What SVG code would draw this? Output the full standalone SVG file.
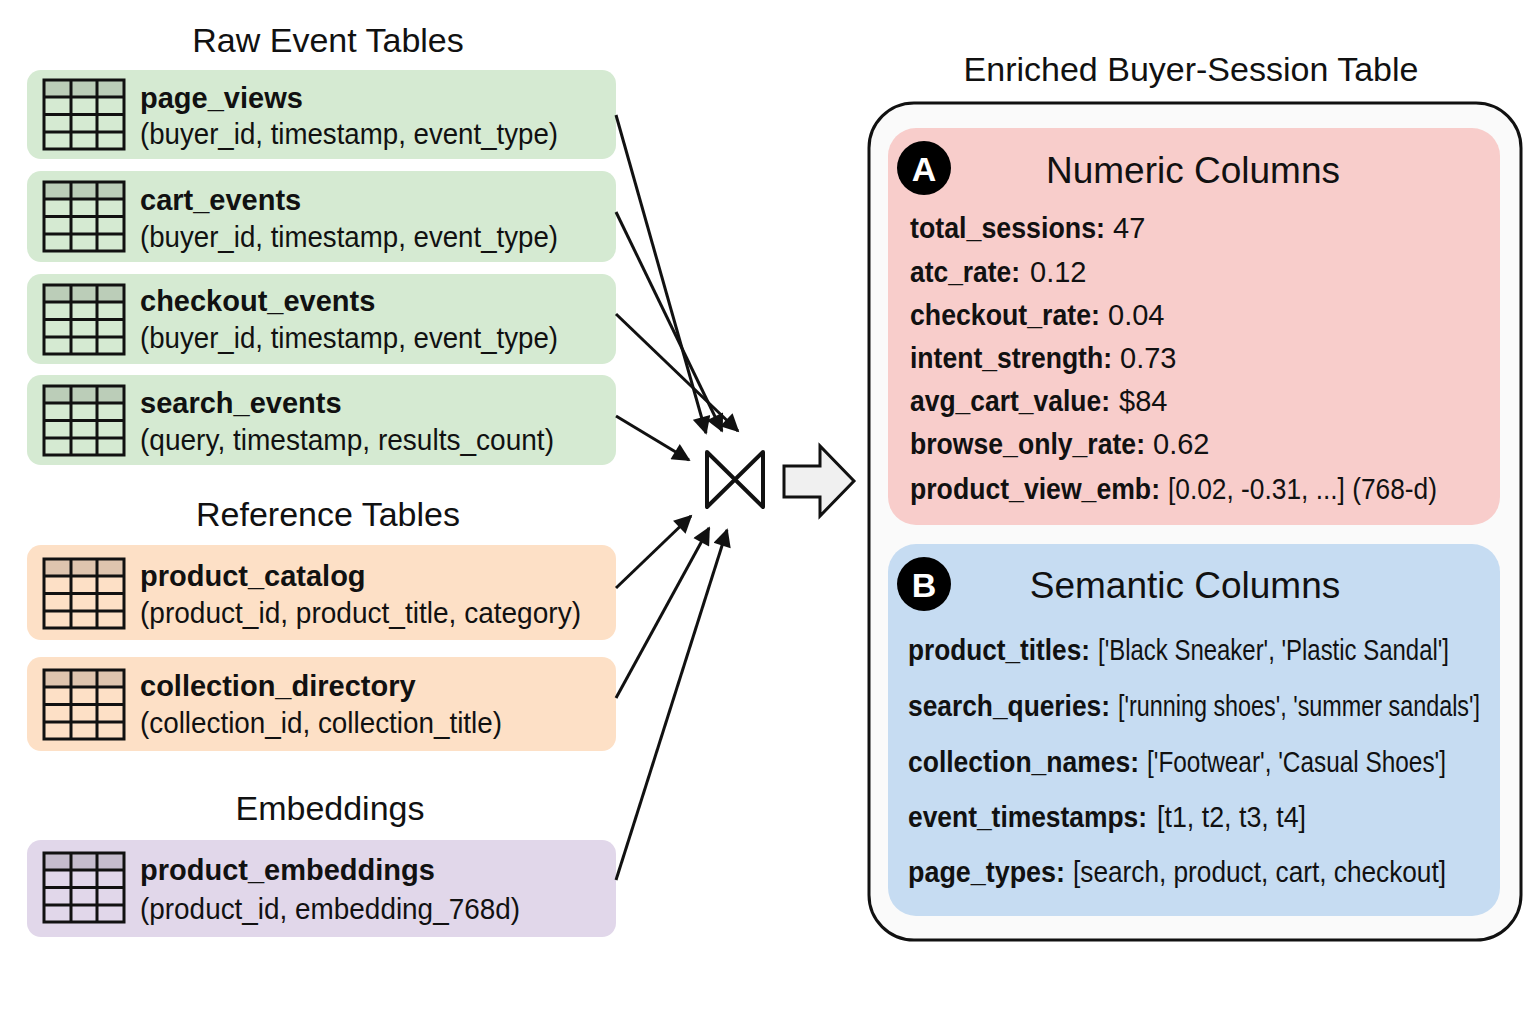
<svg xmlns="http://www.w3.org/2000/svg" width="1536" height="1024" viewBox="0 0 1536 1024">
<style>
text{font-family:"Liberation Sans","DejaVu Sans",sans-serif;fill:#111}
.h{font-size:34px;text-anchor:middle}
.n{font-size:29px;font-weight:bold}
.s{font-size:29px}
.g{fill:#d5ead2}.o{fill:#fde0c6}.p{fill:#e1d7ea}
.grid{fill:none;stroke:#111;stroke-width:3}
.c{stroke:#111;stroke-width:3;fill:none;marker-end:url(#ah)}
.r{font-size:29px}
.b{font-size:29px;font-weight:bold}
</style>
<defs>
<marker id="ah" viewBox="0 0 10 10" refX="9" refY="5" markerWidth="22" markerHeight="18" orient="auto" markerUnits="userSpaceOnUse"><path d="M0,0 L10,5 L0,10 z" fill="#111"/></marker>
<g id="icon">
<rect x="0" y="0" width="80" height="17" fill="#000" opacity="0.12"/>
<rect class="grid" x="0" y="0" width="80" height="69"/>
<path class="grid" d="M27,0V69M53,0V69M0,17H80M0,34.5H80M0,52H80"/>
</g>
</defs>
<rect width="1536" height="1024" fill="#fff"/>
<text class="h" x="328" y="52">Raw Event Tables</text>
<text class="h" x="328" y="526">Reference Tables</text>
<text class="h" x="330" y="820">Embeddings</text>
<g id="page_views"><rect class="g" x="27" y="70" width="589" height="89" rx="14"/><use href="#icon" x="44" y="80"/><text class="n" x="140" y="108">page_views</text><text class="s" x="140" y="144" textLength="418" lengthAdjust="spacingAndGlyphs">(buyer_id, timestamp, event_type)</text></g>
<g id="cart_events"><rect class="g" x="27" y="171" width="589" height="91" rx="14"/><use href="#icon" x="44" y="182"/><text class="n" x="140" y="210">cart_events</text><text class="s" x="140" y="247" textLength="418" lengthAdjust="spacingAndGlyphs">(buyer_id, timestamp, event_type)</text></g>
<g id="checkout_events"><rect class="g" x="27" y="274" width="589" height="90" rx="14"/><use href="#icon" x="44" y="285"/><text class="n" x="140" y="311">checkout_events</text><text class="s" x="140" y="348" textLength="418" lengthAdjust="spacingAndGlyphs">(buyer_id, timestamp, event_type)</text></g>
<g id="search_events"><rect class="g" x="27" y="375" width="589" height="90" rx="14"/><use href="#icon" x="44" y="386"/><text class="n" x="140" y="413">search_events</text><text class="s" x="140" y="450" textLength="414" lengthAdjust="spacingAndGlyphs">(query, timestamp, results_count)</text></g>
<g id="product_catalog"><rect class="o" x="27" y="545" width="589" height="95" rx="14"/><use href="#icon" x="44" y="559"/><text class="n" x="140" y="586">product_catalog</text><text class="s" x="140" y="623" textLength="441" lengthAdjust="spacingAndGlyphs">(product_id, product_title, category)</text></g>
<g id="collection_directory"><rect class="o" x="27" y="657" width="589" height="94" rx="14"/><use href="#icon" x="44" y="670"/><text class="n" x="140" y="696">collection_directory</text><text class="s" x="140" y="733" textLength="362" lengthAdjust="spacingAndGlyphs">(collection_id, collection_title)</text></g>
<g id="product_embeddings"><rect class="p" x="27" y="840" width="589" height="97" rx="14"/><use href="#icon" x="44" y="853"/><text class="n" x="140" y="880">product_embeddings</text><text class="s" x="140" y="919" textLength="380" lengthAdjust="spacingAndGlyphs">(product_id, embedding_768d)</text></g>
<g id="connectors">
<line class="c" x1="616" y1="115" x2="706" y2="433"/>
<line class="c" x1="616" y1="212" x2="722" y2="431"/>
<line class="c" x1="616" y1="314" x2="738" y2="431"/>
<line class="c" x1="616" y1="416" x2="689" y2="460"/>
<line class="c" x1="616" y1="588" x2="691" y2="516"/>
<line class="c" x1="616" y1="698" x2="709" y2="528"/>
<line class="c" x1="616" y1="880" x2="727" y2="530"/>
</g>
<g id="join"><path d="M707,452 L763,507 L763,452 L707,507 Z" fill="none" stroke="#111" stroke-width="4" stroke-linejoin="round"/></g>
<g id="big_arrow"><path d="M784,466 H820 V446 L854,481 L820,516 V497 H784 Z" fill="#f0f0f0" stroke="#111" stroke-width="3"/></g>
<text class="h" x="1191" y="81">Enriched Buyer-Session Table</text>
<g id="enriched_table"><rect x="869" y="103" width="652" height="837" rx="45" fill="#fafafa" stroke="#111" stroke-width="3"/></g>
<g id="numeric">
<rect x="888" y="128" width="612" height="397" rx="28" fill="#f8cdcb"/>
<circle cx="924" cy="168" r="27" fill="#000"/><text x="924" y="181" font-size="34" font-weight="bold" text-anchor="middle" style="fill:#fff">A</text>
<text x="1193" y="183" font-size="37" text-anchor="middle">Numeric Columns</text>
<text class="b" x="910" y="238" textLength="195" lengthAdjust="spacingAndGlyphs">total_sessions:</text><text class="r" x="1113" y="238">47</text>
<text class="b" x="910" y="282" textLength="110" lengthAdjust="spacingAndGlyphs">atc_rate:</text><text class="r" x="1030" y="282">0.12</text>
<text class="b" x="910" y="325" textLength="190" lengthAdjust="spacingAndGlyphs">checkout_rate:</text><text class="r" x="1108" y="325">0.04</text>
<text class="b" x="910" y="368" textLength="202" lengthAdjust="spacingAndGlyphs">intent_strength:</text><text class="r" x="1120" y="368">0.73</text>
<text class="b" x="910" y="411" textLength="200" lengthAdjust="spacingAndGlyphs">avg_cart_value:</text><text class="r" x="1119" y="411">$84</text>
<text class="b" x="910" y="454" textLength="235" lengthAdjust="spacingAndGlyphs">browse_only_rate:</text><text class="r" x="1153" y="454">0.62</text>
<text class="b" x="910" y="499" textLength="250" lengthAdjust="spacingAndGlyphs">product_view_emb:</text><text class="r" x="1168" y="499" textLength="269" lengthAdjust="spacingAndGlyphs">[0.02, -0.31, ...] (768-d)</text>
</g>
<g id="semantic">
<rect x="888" y="544" width="612" height="372" rx="28" fill="#c6dcf2"/>
<circle cx="924" cy="584" r="27" fill="#000"/><text x="924" y="597" font-size="34" font-weight="bold" text-anchor="middle" style="fill:#fff">B</text>
<text x="1185" y="598" font-size="37" text-anchor="middle">Semantic Columns</text>
<text class="b" x="908" y="660" textLength="182" lengthAdjust="spacingAndGlyphs">product_titles:</text><text class="r" x="1098" y="660" textLength="351" lengthAdjust="spacingAndGlyphs">['Black Sneaker', 'Plastic Sandal']</text>
<text class="b" x="908" y="716" textLength="202" lengthAdjust="spacingAndGlyphs">search_queries:</text><text class="r" x="1118" y="716" textLength="362" lengthAdjust="spacingAndGlyphs">['running shoes', 'summer sandals']</text>
<text class="b" x="908" y="772" textLength="231" lengthAdjust="spacingAndGlyphs">collection_names:</text><text class="r" x="1147" y="772" textLength="299" lengthAdjust="spacingAndGlyphs">['Footwear', 'Casual Shoes']</text>
<text class="b" x="908" y="827" textLength="239" lengthAdjust="spacingAndGlyphs">event_timestamps:</text><text class="r" x="1157" y="827" textLength="149" lengthAdjust="spacingAndGlyphs">[t1, t2, t3, t4]</text>
<text class="b" x="908" y="882" textLength="157" lengthAdjust="spacingAndGlyphs">page_types:</text><text class="r" x="1073" y="882" textLength="373" lengthAdjust="spacingAndGlyphs">[search, product, cart, checkout]</text>
</g>
</svg>
